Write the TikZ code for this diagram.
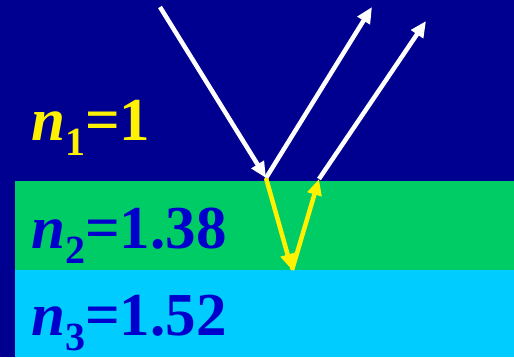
\documentclass[tikz,border=0pt]{standalone}
\usepackage{fontspec}
\setmainfont{Liberation Serif}
\usepackage{tikz}
\usetikzlibrary{arrows.meta}

\definecolor{bgblue}{HTML}{000090}
\definecolor{layergreen}{HTML}{00CC66}
\definecolor{layercyan}{HTML}{00CCFF}
\definecolor{txtblue}{HTML}{0000CC}

\newcommand{\idx}[1]{\raisebox{-15pt}{\fontsize{40}{42}\selectfont #1}}

\tikzset{
  ray/.style={white,line width=4.5pt,-{Triangle[length=16pt,width=14pt]}},
  inray/.style={yellow,line width=4.5pt,-{Triangle[length=16pt,width=14pt]}},
  label/.style={anchor=base west,inner sep=0pt,font=\fontsize{61}{63}\selectfont\bfseries}
}

\begin{document}
\begin{tikzpicture}[x=1pt,y=-1pt]
  \fill[bgblue] (0,0) rectangle (514,357);
  \useasboundingbox (0,0) rectangle (514,357);
  \fill[layergreen] (15,181) rectangle (514,270);
  \fill[layercyan] (15,270) rectangle (514,357);

  % ray points
  \coordinate (src) at (160,7);
  \coordinate (hit) at (266,178);
  \coordinate (out1) at (372,7);
  \coordinate (exit) at (319,179);
  \coordinate (out2) at (426,21);
  \coordinate (bot) at (292,270);

  \draw[ray] (src) -- (hit);
  \draw[ray] (hit) -- (out1);
  \draw[ray] (exit) -- (out2);
  \draw[inray] (hit) -- (bot);
  \draw[inray] (bot) -- (exit);

  \node[label,yellow] (n1) at (31,140) {\textit{n}\idx{1}=1};
  \node[label,txtblue] (n2) at (31,248) {\textit{n}\idx{2}=1.38};
  \node[label,txtblue] (n3) at (31,335) {\textit{n}\idx{3}=1.52};
\end{tikzpicture}
\end{document}
